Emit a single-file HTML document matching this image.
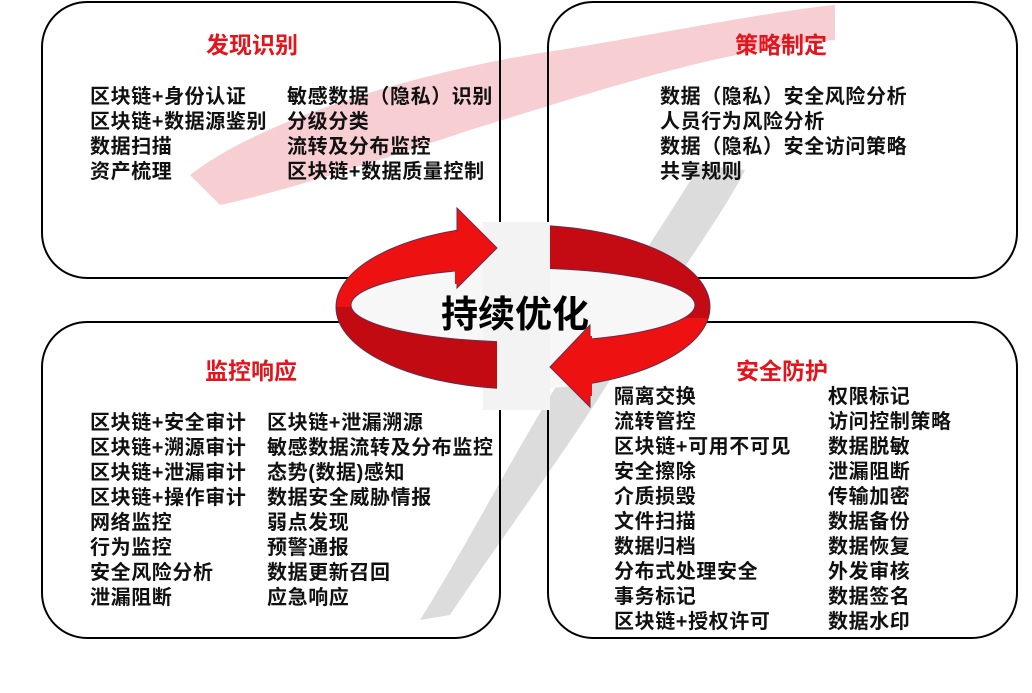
<!DOCTYPE html>
<html><head><meta charset="utf-8"><style>
body{margin:0;width:1032px;height:693px;background:#fff;position:relative;overflow:hidden;font-family:"Liberation Sans","Noto Sans CJK SC",sans-serif}
.t{position:absolute;font-weight:bold;font-size:20px;letter-spacing:0.6px;line-height:25px;color:#111;white-space:nowrap}
.h{position:absolute;font-weight:bold;font-size:23px;color:#e3141c;white-space:nowrap}
svg{position:absolute;left:0;top:0}
</style></head><body>
<svg width="1032" height="693">
<path d="M190,175 C260,120 420,70 560,50 C680,30 780,10 835,5 L835,40 C720,50 600,90 470,130 C380,160 290,190 220,205 Z" fill="#f7cfd3"/>
<path d="M700,165 C660,230 600,320 560,380 C510,460 470,540 420,620 L450,615 C500,540 560,460 610,380 C660,300 720,220 745,170 Z" fill="#dcdcdc"/>
<rect x="42" y="2" width="458" height="276" rx="45" fill="none" stroke="#000" stroke-width="2"/>
<rect x="548" y="2" width="469" height="276" rx="45" fill="none" stroke="#000" stroke-width="2"/>
<rect x="42" y="322" width="458" height="316" rx="45" fill="none" stroke="#000" stroke-width="2"/>
<rect x="548" y="322" width="469" height="316" rx="45" fill="none" stroke="#000" stroke-width="2"/>
<ellipse cx="523" cy="307" rx="187" ry="82" fill="#f7f7f7"/>
<rect x="483" y="222" width="67" height="188" fill="#f3f3f3"/>
<defs>
<path id="ring" fill-rule="evenodd" d="M336,307 a187,82 0 1,0 374,0 a187,82 0 1,0 -374,0 Z M351,305 a172,37 0 1,0 344,0 a172,37 0 1,0 -344,0 Z"/>
<clipPath id="c1"><rect x="300" y="200" width="160" height="107"/></clipPath>
<clipPath id="c2"><rect x="550" y="200" width="200" height="118"/></clipPath>
<clipPath id="c3"><rect x="300" y="307" width="197" height="120"/></clipPath>
<clipPath id="c4"><rect x="585" y="318" width="170" height="110"/></clipPath>
</defs>
<g stroke="#6a2a4a" stroke-width="1">
<use href="#ring" fill="#ee1111" clip-path="url(#c1)"/>
<use href="#ring" fill="#c40a12" clip-path="url(#c2)"/>
<use href="#ring" fill="#c20a12" clip-path="url(#c3)"/>
<use href="#ring" fill="#ee1111" clip-path="url(#c4)"/>
<polygon points="457,208 497,248 457,288" fill="#ee1111"/>
<polygon points="590,325 550,367 590,407" fill="#ee1111"/>
</g>
<rect x="455" y="232" width="6" height="52" fill="#ee1111"/>
<rect x="584" y="336" width="8" height="60" fill="#ee1111"/>
</svg>
<div class="h" style="left:206px;top:26px">发现识别</div>
<div class="h" style="left:735px;top:26px">策略制定</div>
<div class="h" style="left:205px;top:352px">监控响应</div>
<div class="h" style="left:736px;top:352px">安全防护</div>
<div style="position:absolute;left:441px;top:284px;font-size:37px;font-weight:bold;color:#000;white-space:nowrap">持续优化</div>
<div class="t" style="left:90px;top:85px">区块链+身份认证<br>区块链+数据源鉴别<br>数据扫描<br>资产梳理</div>
<div class="t" style="left:287px;top:85px">敏感数据（隐私）识别<br>分级分类<br>流转及分布监控<br>区块链+数据质量控制</div>
<div class="t" style="left:660px;top:85px">数据（隐私）安全风险分析<br>人员行为风险分析<br>数据（隐私）安全访问策略<br>共享规则</div>
<div class="t" style="left:90px;top:411px">区块链+安全审计<br>区块链+溯源审计<br>区块链+泄漏审计<br>区块链+操作审计<br>网络监控<br>行为监控<br>安全风险分析<br>泄漏阻断</div>
<div class="t" style="left:267px;top:411px">区块链+泄漏溯源<br>敏感数据流转及分布监控<br>态势(数据)感知<br>数据安全威胁情报<br>弱点发现<br>预警通报<br>数据更新召回<br>应急响应</div>
<div class="t" style="left:614px;top:385px">隔离交换<br>流转管控<br>区块链+可用不可见<br>安全擦除<br>介质损毁<br>文件扫描<br>数据归档<br>分布式处理安全<br>事务标记<br>区块链+授权许可</div>
<div class="t" style="left:828px;top:385px">权限标记<br>访问控制策略<br>数据脱敏<br>泄漏阻断<br>传输加密<br>数据备份<br>数据恢复<br>外发审核<br>数据签名<br>数据水印</div>
</body></html>
